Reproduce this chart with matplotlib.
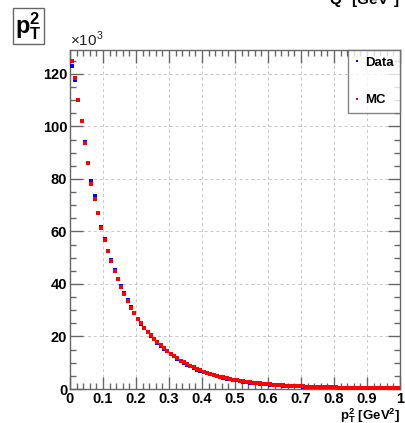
import numpy as np
import matplotlib
matplotlib.use("Agg")
import matplotlib.pyplot as plt
from matplotlib.ticker import MultipleLocator, FixedLocator
from matplotlib.lines import Line2D

plt.rcParams['font.family'] = ['Liberation Sans', 'DejaVu Sans']
plt.rcParams['mathtext.fontset'] = 'custom'
plt.rcParams['mathtext.rm'] = 'Liberation Sans'
plt.rcParams['mathtext.bf'] = 'Liberation Sans:bold'

# bin centres (GeV^2)
bin_centers = [0.005, 0.015, 0.025, 0.035, 0.045, 0.055, 0.065, 0.075, 0.085, 0.095,
               0.105, 0.115, 0.125, 0.135, 0.145, 0.155, 0.165, 0.175, 0.185, 0.195,
               0.205, 0.215, 0.225, 0.235, 0.245, 0.255, 0.265, 0.275, 0.285, 0.295,
               0.305, 0.315, 0.325, 0.335, 0.345, 0.355, 0.365, 0.375, 0.385, 0.395,
               0.405, 0.415, 0.425, 0.435, 0.445, 0.455, 0.465, 0.475, 0.485, 0.495,
               0.505, 0.515, 0.525, 0.535, 0.545, 0.555, 0.565, 0.575, 0.585, 0.595,
               0.605, 0.615, 0.625, 0.635, 0.645, 0.655, 0.665, 0.675, 0.685, 0.695,
               0.705, 0.715, 0.725, 0.735, 0.745, 0.755, 0.765, 0.775, 0.785, 0.795,
               0.805, 0.815, 0.825, 0.835, 0.845, 0.855, 0.865, 0.875, 0.885, 0.895,
               0.905, 0.915, 0.925, 0.935, 0.945, 0.955, 0.965, 0.975, 0.985, 0.995]

# counts in units of 10^3
mc_counts = [125.0, 118.6, 110.0, 102.0, 93.8, 86.0, 78.1, 72.3, 66.9, 61.4,
             56.8, 52.4, 48.8, 45.0, 41.8, 38.8, 36.2, 33.6, 31.0, 28.9,
             26.7, 25.0, 23.4, 21.8, 20.5, 19.2, 17.9, 16.7, 15.6, 14.5,
             13.5, 12.6, 11.7, 10.8, 10.1, 9.4, 8.8, 8.2, 7.6, 7.1,
             6.6, 6.2, 5.8, 5.4, 5.0, 4.7, 4.4, 4.1, 3.8, 3.6,
             3.35, 3.1, 2.9, 2.7, 2.55, 2.4, 2.25, 2.1, 1.95, 1.85,
             1.72, 1.62, 1.52, 1.43, 1.35, 1.27, 1.2, 1.13, 1.07, 1.01,
             0.96, 0.91, 0.86, 0.82, 0.78, 0.74, 0.71, 0.68, 0.65, 0.62,
             0.6, 0.57, 0.55, 0.53, 0.51, 0.49, 0.47, 0.45, 0.44, 0.42,
             0.41, 0.39, 0.38, 0.37, 0.36, 0.35, 0.34, 0.33, 0.32, 0.31]

data_counts = [123.0, 117.7, 110.2, 102.1, 94.0, 86.2, 79.2, 73.5, 67.2, 61.8,
               57.0, 52.6, 49.0, 45.2, 42.0, 39.1, 36.5, 33.9, 31.4, 29.0,
               26.6, 24.8, 23.2, 21.6, 20.3, 19.0, 17.7, 16.5, 15.4, 14.3,
               13.3, 12.4, 11.5, 10.6, 9.9, 9.2, 8.6, 8.0, 7.4, 6.9,
               6.4, 6.0, 5.6, 5.2, 4.85, 4.55, 4.25, 3.95, 3.7, 3.5,
               3.25, 3.0, 2.8, 2.62, 2.47, 2.32, 2.18, 2.03, 1.9, 1.8,
               1.67, 1.57, 1.48, 1.39, 1.31, 1.23, 1.16, 1.1, 1.04, 0.98,
               0.93, 0.88, 0.83, 0.79, 0.75, 0.72, 0.69, 0.66, 0.63, 0.6,
               0.58, 0.55, 0.53, 0.51, 0.49, 0.47, 0.45, 0.44, 0.42, 0.41,
               0.39, 0.38, 0.37, 0.36, 0.35, 0.34, 0.33, 0.32, 0.31, 0.3]

x_ticks = [0, 0.1, 0.2, 0.3, 0.4, 0.5, 0.6, 0.7, 0.8, 0.9, 1]
x_tick_labels = ['0', '0.1', '0.2', '0.3', '0.4', '0.5', '0.6', '0.7', '0.8', '0.9', '1']
y_ticks = [0, 20, 40, 60, 80, 100, 120]
y_tick_labels = ['0', '20', '40', '60', '80', '100', '120']

W, H = 405, 423
fig = plt.figure(figsize=(W / 100, H / 100), dpi=100)
ax = fig.add_axes([70 / W, 1 - 389 / H, 330 / W, 339 / H])

ax.plot(bin_centers, data_counts, linestyle='none', marker='s', markersize=2.4,
        color='#0000ff', markeredgewidth=0, label='Data', zorder=3)
ax.plot(bin_centers, mc_counts, linestyle='none', marker='s', markersize=2.4,
        color='#ff0000', markeredgewidth=0, label='MC', zorder=4)

ax.set_xlim(0, 1)
ax.set_ylim(0, 129.1)
ax.xaxis.set_major_locator(FixedLocator(x_ticks))
ax.set_xticklabels(x_tick_labels)
ax.yaxis.set_major_locator(FixedLocator(y_ticks))
ax.set_yticklabels(y_tick_labels)
ax.xaxis.set_minor_locator(MultipleLocator(0.02))
ax.yaxis.set_minor_locator(MultipleLocator(5))

frame_col = '#666666'
for s in ax.spines.values():
    s.set_color(frame_col)
    s.set_linewidth(1.0)
ax.tick_params(which='both', direction='in', top=True, right=True, color=frame_col,
               width=1.0)
ax.tick_params(which='major', length=9, labelsize=10.5, pad=2)
ax.tick_params(which='minor', length=4.5)
for lab in ax.get_xticklabels() + ax.get_yticklabels():
    lab.set_fontweight('bold')

ax.grid(True, which='major', linestyle=(0, (3, 3)), color='#c8c8c8', linewidth=0.7)
ax.set_axisbelow(True)

# multiplier
ax.text(0.0, 1.003, r'$\times$10$^{\mathregular{3}}$', transform=ax.transAxes,
        ha='left', va='bottom', fontsize=11, color='#222222')

# x label
fig.text(400 / W, 1 - 419 / H, r'$\mathbf{p_{T}^{2}}$ [GeV$^{\mathbf{2}}$]',
         ha='right', va='baseline', fontsize=9.5, fontweight='bold')

# legend
handles = [Line2D([], [], linestyle='none', marker='s', markersize=2.0, color='#0000ff',
                  markeredgewidth=0),
           Line2D([], [], linestyle='none', marker='s', markersize=2.0, color='#ff0000',
                  markeredgewidth=0)]
leg = ax.legend(handles, ['Data', 'MC'], loc='upper right', bbox_to_anchor=(1.0, 1.0),
                borderaxespad=0.0, frameon=True, fancybox=False, edgecolor=frame_col,
                handlelength=0.3, handletextpad=0.45, labelspacing=1.9,
                borderpad=0.5, prop={'weight': 'bold', 'size': 9.5})
leg.get_frame().set_linewidth(1.0)
leg.set_zorder(10)

# title box
fig.text(15 / W, 1 - 26 / H, r'$\mathbf{p_{T}^{2}}$', fontsize=17, ha='left', va='center',
         bbox=dict(boxstyle='square,pad=0.1', facecolor='white', edgecolor='#666666',
                   linewidth=1.0))

# cut-off top-right label
fig.text(400 / W, 1 - 0 / H, r'Q$^{\mathbf{2}}$ [GeV$^{\mathbf{2}}$]', fontsize=11,
         fontweight='bold', ha='right', va='center')

fig.savefig('out.png', dpi=100)
